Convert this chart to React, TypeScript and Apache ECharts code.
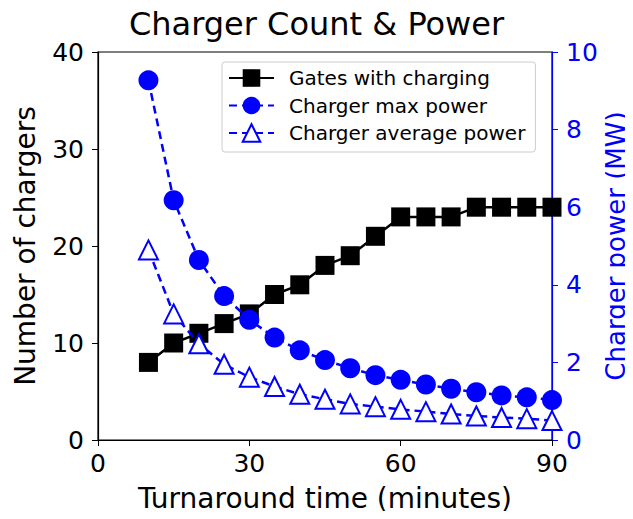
import React, { useEffect, useRef } from "react";
import * as echarts from "echarts";

const turnaround = [10, 15, 20, 25, 30, 35, 40, 45, 50, 55, 60, 65, 70, 75, 80, 85, 90];
const gatesWithCharging = [8, 10, 11, 12, 13, 15, 16, 18, 19, 21, 23, 23, 23, 24, 24, 24, 24];
const chargerMaxPower = [9.27, 6.18, 4.64, 3.71, 3.1, 2.64, 2.31, 2.06, 1.85, 1.67, 1.55, 1.43, 1.32, 1.23, 1.15, 1.1, 1.03];
const chargerAvgPower = [4.9, 3.25, 2.48, 1.95, 1.62, 1.38, 1.18, 1.05, 0.93, 0.86, 0.79, 0.73, 0.67, 0.62, 0.58, 0.55, 0.5];

const FONT = "DejaVu Sans";
const BLUE = "#0000ff";

export default function App() {
  const ref = useRef<HTMLDivElement>(null);
  useEffect(() => {
    if (!ref.current) return;
    const chart = echarts.init(ref.current, undefined, { renderer: "svg" });
    chart.setOption({
      animation: false,
      backgroundColor: "#fff",
      textStyle: { fontFamily: FONT },
      title: {
        text: "Charger Count & Power",
        left: "center",
        top: 3,
        textStyle: { fontFamily: FONT, fontSize: 32, fontWeight: "normal", color: "#000" },
      },
      grid: {
        left: 98,
        right: 81,
        top: 52,
        bottom: 79,
        show: true,
        borderColor: "#000",
        borderWidth: 1.2,
        containLabel: false,
        outerBoundsMode: "none",
      },
      legend: {
        orient: "vertical",
        left: 222,
        top: 62,
        padding: [6, 10, 9, 6],
        itemGap: 7.5,
        itemWidth: 45,
        itemHeight: 22,
        borderColor: "#cccccc",
        borderWidth: 1,
        borderRadius: 3,
        textStyle: { fontFamily: FONT, fontSize: 20, color: "#000", padding: [0, 0, 0, 10] },
        data: ["Gates with charging", "Charger max power", "Charger average power"],
      },
      xAxis: {
        type: "value",
        min: 0,
        max: 90,
        interval: 30,
        name: "Turnaround time (minutes)",
        nameLocation: "middle",
        nameGap: 44,
        nameMoveOverlap: false,
        nameTextStyle: { fontFamily: FONT, fontSize: 28, color: "#000" },
        axisLine: { lineStyle: { color: "#000", width: 1.2 } },
        axisTick: { show: true, length: 6, lineStyle: { color: "#000" } },
        axisLabel: { fontFamily: FONT, fontSize: 25, color: "#000", margin: 11 },
        splitLine: { show: false },
      },
      yAxis: [
        {
          type: "value",
          min: 0,
          max: 40,
          interval: 10,
          name: "Number of chargers",
          nameLocation: "middle",
          nameGap: 59,
          nameMoveOverlap: false,
          nameTextStyle: { fontFamily: FONT, fontSize: 28, color: "#000" },
          axisLine: { show: true, lineStyle: { color: "#000", width: 1.2 } },
          axisTick: { show: true, length: 6, lineStyle: { color: "#000" } },
          axisLabel: { fontFamily: FONT, fontSize: 25, color: "#000", margin: 14 },
          splitLine: { show: false },
        },
        {
          type: "value",
          min: 0,
          max: 10,
          interval: 2,
          position: "right",
          name: "Charger power (MW)",
          nameLocation: "middle",
          nameGap: 51,
          nameRotate: 90,
          nameMoveOverlap: false,
          nameTextStyle: { fontFamily: FONT, fontSize: 26, color: BLUE },
          axisLine: { show: true, lineStyle: { color: BLUE, width: 1.2 } },
          axisTick: { show: true, length: 6, lineStyle: { color: BLUE } },
          axisLabel: { fontFamily: FONT, fontSize: 25, color: BLUE, margin: 14 },
          splitLine: { show: false },
        },
      ],
      series: [
        {
          name: "Gates with charging",
          type: "line",
          yAxisIndex: 0,
          data: turnaround.map((t, i) => [t, gatesWithCharging[i]]),
          symbol: "rect",
          symbolSize: 19,
          lineStyle: { color: "#000", width: 2.5 },
          itemStyle: { color: "#000" },
          z: 3,
        },
        {
          name: "Charger max power",
          type: "line",
          yAxisIndex: 1,
          data: turnaround.map((t, i) => [t, chargerMaxPower[i]]),
          symbol: "circle",
          symbolSize: 20,
          lineStyle: { color: BLUE, width: 2.5, type: [8, 5] },
          itemStyle: { color: BLUE },
          z: 4,
        },
        {
          name: "Charger average power",
          type: "line",
          yAxisIndex: 1,
          data: turnaround.map((t, i) => [t, chargerAvgPower[i]]),
          symbol: "triangle",
          symbolSize: 19,
          lineStyle: { color: BLUE, width: 2.5, type: [8, 5] },
          itemStyle: { color: "#fff", borderColor: BLUE, borderWidth: 2 },
          z: 5,
        },
      ],
    });
    return () => chart.dispose();
  }, []);
  return <div ref={ref} style={{ width: 633, height: 519, margin: -8 }} />;
}
